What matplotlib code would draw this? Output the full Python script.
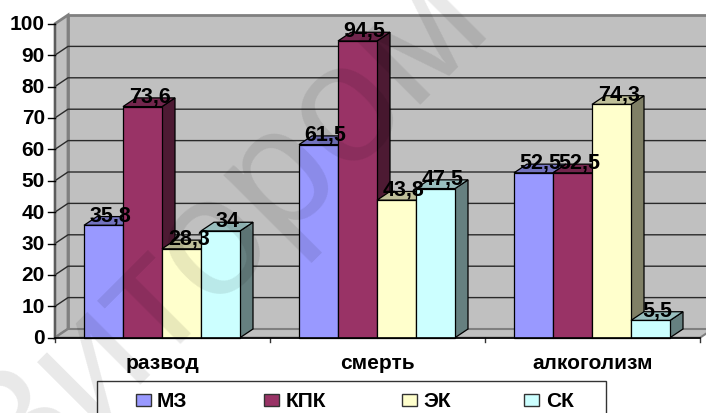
import numpy as np
import matplotlib
matplotlib.use('Agg')
import matplotlib.pyplot as plt
from matplotlib.patches import Polygon, Rectangle
from matplotlib.colors import to_rgb

plt.rcParams['font.family'] = ['Liberation Sans', 'DejaVu Sans']

categories = ['развод', 'смерть', 'алкоголизм']
series_names = ['МЗ', 'КПК', 'ЭК', 'СК']
mz = [35.8, 61.5, 52.5]
kpk = [73.6, 94.5, 52.5]
ek = [28.3, 43.8, 74.3]
sk = [34, 47.5, 5.5]
y_ticks = list(range(0, 101, 10))
colors = ['#9999ff', '#993366', '#ffffcc', '#ccffff']

W, H = 706, 414
# front plane of the 3d box, in pixels
left, right, bottom, top = 55, 700, 338.7, 24.7
# depth of the box in data units
DX = 13 / 215
DY = 8.7 / 3.14
bar_w = 39 / 215
gap = 29 / 215


def shade(c, k):
    return tuple(v * k for v in to_rgb(c))


fig = plt.figure(figsize=(W / 100, H / 100), dpi=100)
ax = fig.add_axes([left / W, 1 - bottom / H, (right - left) / W, (bottom - top) / H])
ax.set_xlim(0, 3)
ax.set_ylim(0, 100)
ax.axis('off')

wall = '#c0c0c0'
edge = '#808080'
# side wall, back wall, floor
ax.add_patch(Polygon([(0, 0), (DX, DY), (DX, 100 + DY), (0, 100)], fc=wall, ec=edge, lw=2, clip_on=False, zorder=1))
ax.add_patch(Polygon([(DX, DY), (3 + DX, DY), (3 + DX, 100 + DY), (DX, 100 + DY)], fc=wall, ec=edge, lw=2, clip_on=False, zorder=1))
ax.add_patch(Polygon([(0, 0), (3, 0), (3 + DX, DY), (DX, DY)], fc=wall, ec=edge, lw=1.5, clip_on=False, zorder=1))

for t in y_ticks[1:-1]:
    ax.plot([0, DX, 3 + DX], [t, t + DY, t + DY], color='#2a2a2a', lw=1.0, clip_on=False, zorder=2)

# axis lines and ticks
ax.plot([0, 0], [0, 100], color='#555555', lw=1.2, clip_on=False, zorder=2)
ax.plot([0, 3], [0, 0], color='black', lw=1.2, clip_on=False, zorder=6)
for t in y_ticks:
    ax.plot([-7 / 215, 0], [t, t], color='black', lw=1, clip_on=False, zorder=2)
    ax.text(-10 / 215, t, str(t), ha='right', va='center', fontsize=15, fontweight='bold')
for i in range(4):
    ax.plot([i, i], [0, -1.5], color='#333333', lw=1, clip_on=False, zorder=2)
for i, name in enumerate(categories):
    ax.text(i + 0.5, -7.8, name, ha='center', va='center', fontsize=15, fontweight='bold')

# bars
values = [mz, kpk, ek, sk]
for s, (vals, c) in enumerate(zip(values, colors)):
    for i, v in enumerate(vals):
        x0 = i + gap + s * bar_w
        x1 = x0 + bar_w
        z = 3 + 0.1 * s
        ax.add_patch(Polygon([(x1, 0), (x1 + DX, DY), (x1 + DX, v + DY), (x1, v)],
                             fc=shade(c, 0.5), ec='black', lw=0.9, clip_on=False, zorder=z))
        ax.add_patch(Polygon([(x0, v), (x0 + DX, v + DY), (x1 + DX, v + DY), (x1, v)],
                             fc=shade(c, 0.75), ec='black', lw=0.9, clip_on=False, zorder=z))
        ax.add_patch(Rectangle((x0, 0), bar_w, v, fc=c, ec='black', lw=0.9, clip_on=False, zorder=z))
for s, vals in enumerate(values):
    for i, v in enumerate(vals):
        x0 = i + gap + s * bar_w
        ax.text(x0 + bar_w / 2 + DX * 0.55, v + 3.4, str(v).replace('.', ','), ha='center', va='center',
                fontsize=15.5, fontweight='bold', zorder=8)

# legend box
fig.add_artist(Rectangle((97 / W, 1 - 416 / H), 509 / W, 34 / H, fc='white', ec='#333333', lw=1, transform=fig.transFigure))
legend_x = [136, 264, 402, 524]
legend_tx = [157, 286, 423, 546]
for x, tx, c, name in zip(legend_x, legend_tx, colors, series_names):
    fig.add_artist(Rectangle((x / W, 1 - 407 / H), 15 / W, 12 / H, fc=c, ec='#333333', lw=1, transform=fig.transFigure))
    fig.text(tx / W, 1 - 407 / H, name, ha='left', va='baseline', fontsize=15, fontweight='bold')

# diagonal site stamp across the chart
fig.text(19 / W, 1 - 501 / H, 'Зитором', rotation=45, rotation_mode='anchor', ha='left', va='baseline',
         fontsize=122, color='black', alpha=0.09, zorder=20)

fig.savefig('out.png', dpi=100)
